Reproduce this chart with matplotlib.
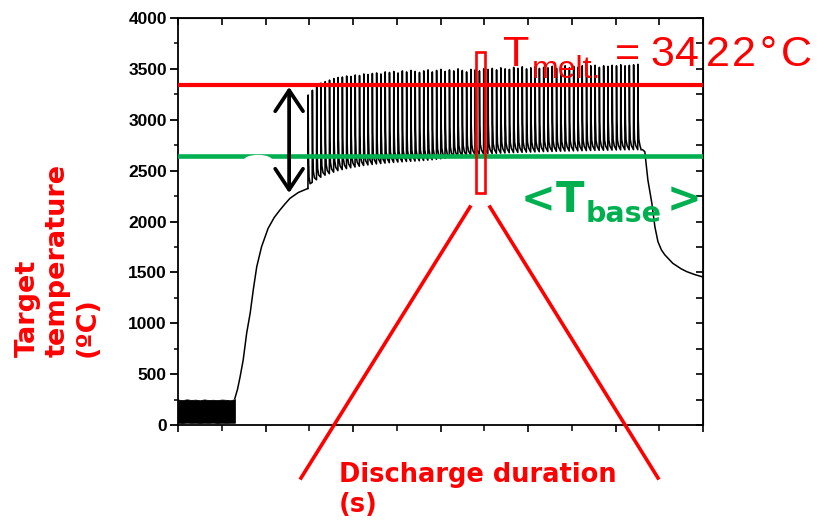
import numpy as np
import matplotlib
matplotlib.use('Agg')
import matplotlib.pyplot as plt
from matplotlib.patches import Rectangle, Ellipse
from matplotlib.lines import Line2D
from matplotlib.ticker import MultipleLocator, NullFormatter

# ---------------- data ----------------
# pre-discharge noisy baseline band
base_x = [0.0, 0.1, 0.2, 0.3, 0.4, 0.5, 0.6, 0.7, 0.8, 0.9, 1.0, 1.1, 1.2, 1.3]
base_hi = [250, 244, 252, 246, 249, 243, 251, 245, 248, 244, 250, 247, 243, 255]
base_lo = [22, 20, 23, 21, 22, 20, 22, 21, 23, 20, 22, 21, 22, 22]

# heating ramp
heat_x = [1.30, 1.36, 1.42, 1.49, 1.57, 1.65, 1.72, 1.80, 1.91, 2.06, 2.20, 2.33, 2.45, 2.56, 2.75, 2.97]
heat_y = [262, 350, 475, 639, 904, 1100, 1327, 1556, 1752, 1933, 2040, 2113, 2175, 2228, 2285, 2325]

# repetitive pulses
spike_start = 2.97
spike_period = 0.0979
spike_peaks = [3243, 3290, 3340, 3360, 3375, 3390, 3405, 3415, 3420, 3430,
               3425, 3440, 3435, 3450, 3445, 3455, 3460, 3450, 3470, 3465,
               3475, 3460, 3480, 3470, 3485, 3475, 3465, 3480, 3490, 3470,
               3485, 3495, 3475, 3490, 3480, 3500, 3485, 3470, 3495, 3490,
               3480, 3500, 3495, 3505, 3490, 3510, 3500, 3495, 3515, 3505,
               3520, 3500, 3510, 3520, 3505, 3515, 3510, 3525, 3505, 3520,
               3530, 3510, 3525, 3515, 3530, 3520, 3530, 3535, 3515, 3530,
               3525, 3535, 3530, 3540, 3530, 3535, 3540, 3545]
spike_bases = [2325, 2385, 2410, 2435, 2455, 2470, 2485, 2500, 2510, 2520,
               2528, 2536, 2543, 2550, 2556, 2561, 2566, 2570, 2574, 2578,
               2581, 2584, 2587, 2590, 2592, 2594, 2597, 2600, 2603, 2607,
               2612, 2617, 2622, 2628, 2634, 2640, 2645, 2650, 2654, 2658,
               2661, 2664, 2666, 2668, 2670, 2672, 2674, 2676, 2677, 2679,
               2680, 2682, 2683, 2684, 2686, 2687, 2688, 2689, 2690, 2691,
               2692, 2693, 2694, 2695, 2696, 2697, 2698, 2699, 2700, 2700,
               2701, 2702, 2703, 2704, 2705, 2705, 2706, 2706]

# cooling after the pulses
cool_x = [10.62, 10.67, 10.74, 10.83, 10.90, 10.97, 11.05, 11.13, 11.31, 11.50, 11.63, 11.80, 11.97, 12.0]
cool_y = [2705, 2686, 2408, 2182, 1949, 1802, 1720, 1671, 1589, 1535, 1507, 1480, 1458, 1455]

t_melt_line = 3340
t_base_line = 2645
y_ticks = [0, 500, 1000, 1500, 2000, 2500, 3000, 3500, 4000]

RED = '#ff0000'
GREEN = '#00b050'

W, H = 826, 522
fig = plt.figure(figsize=(W / 100, H / 100), dpi=100)
ax = fig.add_axes([178 / W, 1 - 425 / H, 525 / W, 407 / H])


def fx(px):
    return px / W


def fy(py):
    return 1 - py / H


# baseline band
ax.fill_between(base_x, base_lo, base_hi, color='black', lw=0.6, zorder=3)
# heating ramp
ax.plot(heat_x, heat_y, color='black', lw=1.1, zorder=3)

# pulses
sx, sy = [], []
n = len(spike_peaks)
for i in range(n):
    t0 = spike_start + i * spike_period
    b = spike_bases[i]
    pk = spike_peaks[i]
    sx += [t0, t0 + 0.004, t0 + 0.012, t0 + 0.025, t0 + 0.05]
    sy += [b, pk, b + 0.35 * (pk - b), b + 0.12 * (pk - b), b + 0.05 * (pk - b)]
sx.append(spike_start + n * spike_period - 0.02)
sy.append(cool_y[0])
ax.plot(sx, sy, color='black', lw=1.15, zorder=3)
ax.plot(cool_x, cool_y, color='black', lw=1.1, zorder=3)

# reference lines
ax.axhline(t_melt_line, color=RED, lw=3.0, zorder=4)
ax.axhline(t_base_line, color=GREEN, lw=3.3, zorder=4)
ax.add_patch(Ellipse((1.83, 2600), 0.66, 110, facecolor='white', edgecolor='none', zorder=5))

# double arrow
ax.annotate('', xy=(2.54, 3322), xytext=(2.54, 2280),
            arrowprops=dict(arrowstyle='<->, head_length=0.75, head_width=0.5',
                            lw=2.7, color='black', mutation_scale=20,
                            shrinkA=0, shrinkB=0), zorder=6)

# red window rectangle
ax.add_patch(Rectangle((6.81, 2280), 0.196, 1386, facecolor='none',
                       edgecolor=RED, lw=1.9, zorder=6, clip_on=False))

# axes styling
ax.set_xlim(0, 12)
ax.set_ylim(0, 4000)
ax.xaxis.set_major_locator(MultipleLocator(2))
ax.xaxis.set_minor_locator(MultipleLocator(1))
ax.xaxis.set_major_formatter(NullFormatter())
ax.set_yticks(y_ticks)
ax.yaxis.set_minor_locator(MultipleLocator(250))
for s in ax.spines.values():
    s.set_linewidth(1.3)
ax.tick_params(axis='y', which='major', direction='out', length=6, width=1.3, pad=2,
               right=False, labelsize=12.5)
ax.tick_params(axis='y', which='minor', direction='out', length=3, width=1.1, right=False)
ax.tick_params(axis='x', which='major', direction='out', length=5, width=1.2, top=False)
ax.tick_params(axis='x', which='minor', direction='out', length=4, width=1.1, top=False)
for lab in ax.get_yticklabels():
    lab.set_fontfamily('Liberation Sans')
    lab.set_fontweight('bold')

top = ax.secondary_xaxis('top')
top.xaxis.set_major_locator(MultipleLocator(1))
top.xaxis.set_major_formatter(NullFormatter())
top.tick_params(direction='in', length=5, width=1.2)
right = ax.secondary_yaxis('right')
right.yaxis.set_major_locator(MultipleLocator(250))
right.yaxis.set_major_formatter(NullFormatter())
right.tick_params(direction='in', length=5, width=1.2)

# red connecting lines (figure coords)
fig.add_artist(Line2D([fx(470), fx(301)], [fy(207), fy(478)], color=RED, lw=2.6))
fig.add_artist(Line2D([fx(490), fx(658)], [fy(207), fy(478)], color=RED, lw=2.6))

# texts
rtxt = dict(color=RED, family='Liberation Sans', va='baseline', ha='left', fontsize=31)
fig.text(fx(503), fy(65.5), 'T', **rtxt)
fig.text(fx(532), fy(77.7), 'melt.', color=RED, family='Liberation Sans', va='baseline',
         ha='left', fontsize=23)
for ch, xp in [('=', 615), ('3', 650), ('4', 675), ('2', 706), ('2', 732), ('°', 760), ('C', 781)]:
    fig.text(fx(xp), fy(66), ch, **rtxt)

gtxt = dict(color=GREEN, family='DejaVu Sans', weight='bold', va='baseline', ha='left')
fig.text(fx(521), fy(212), '<', fontsize=30, **gtxt)
fig.text(fx(556), fy(212), 'T', fontsize=30, **gtxt)
fig.text(fx(586), fy(221.7), 'base', fontsize=20.5, **gtxt)
fig.text(fx(667), fy(212), '>', fontsize=30, **gtxt)

fig.text(fx(15), fy(357), 'Target\ntemperature\n(ºC)', color=RED, fontsize=19.5, family='DejaVu Sans',
         weight='bold', rotation=90, ha='left', va='bottom', multialignment='left', linespacing=1.2)

fig.text(fx(339), fy(482), 'Discharge duration', color=RED, fontsize=18.5, family='DejaVu Sans',
         weight='bold', va='baseline', ha='left')
fig.text(fx(339), fy(512), '(s)', color=RED, fontsize=18.5, family='DejaVu Sans',
         weight='bold', va='baseline', ha='left')

fig.savefig('out.png', dpi=100)
